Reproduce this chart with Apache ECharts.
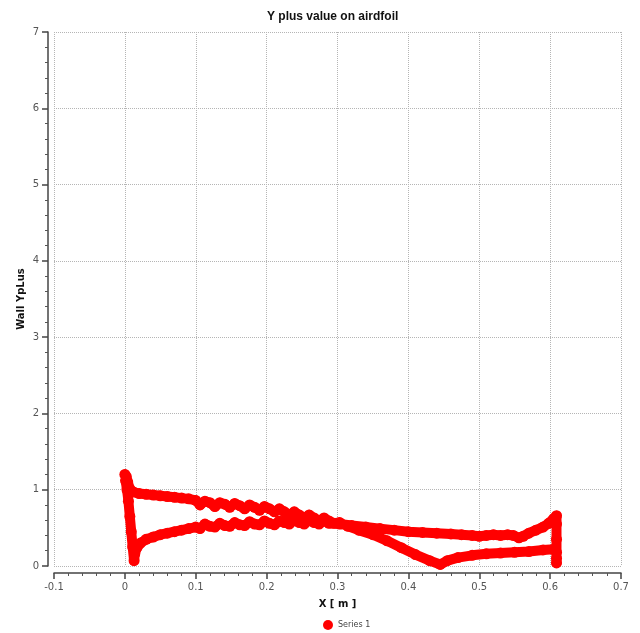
<!DOCTYPE html>
<html>
<head>
<meta charset="utf-8">
<title>Y plus value on airdfoil</title>
<script src="https://cdn.jsdelivr.net/npm/echarts@6/dist/echarts.min.js"></script>
<style>
  html, body { margin: 0; padding: 0; background: #ffffff; }
  #chart { width: 640px; height: 633px; }
</style>
</head>
<body>
<div id="chart"></div>
<script>
// Wall y+ along the airfoil, leading edge -> suction side -> trailing edge
const sideAX = [0.000, 0.002, 0.004, 0.007, 0.012, 0.020, 0.030, 0.040, 0.050, 0.060,
  0.070, 0.080, 0.090, 0.100, 0.106, 0.113, 0.120, 0.127, 0.134, 0.141,
  0.148, 0.155, 0.162, 0.169, 0.176, 0.183, 0.190, 0.197, 0.204, 0.211,
  0.218, 0.225, 0.232, 0.239, 0.246, 0.253, 0.260, 0.267, 0.274, 0.281,
  0.288, 0.295, 0.303, 0.315, 0.330, 0.350, 0.370, 0.390, 0.410, 0.430,
  0.445, 0.455, 0.470, 0.490, 0.510, 0.530, 0.550, 0.570, 0.590, 0.605,
  0.609, 0.609];
const sideAY = [1.20, 1.17, 1.10, 1.01, 0.97, 0.95, 0.94, 0.93, 0.92, 0.91,
  0.90, 0.89, 0.88, 0.86, 0.80, 0.85, 0.83, 0.78, 0.83, 0.81,
  0.77, 0.82, 0.79, 0.75, 0.80, 0.77, 0.73, 0.78, 0.75, 0.71,
  0.75, 0.71, 0.67, 0.71, 0.67, 0.63, 0.67, 0.63, 0.59, 0.63,
  0.59, 0.56, 0.57, 0.52, 0.47, 0.41, 0.33, 0.24, 0.15, 0.07,
  0.02, 0.07, 0.11, 0.14, 0.16, 0.17, 0.18, 0.19, 0.21, 0.22,
  0.18, 0.04];

// Trailing edge -> other side -> back to the leading edge
const sideBX = [0.609, 0.609, 0.609, 0.609, 0.605, 0.598, 0.590, 0.580, 0.570, 0.562,
  0.556, 0.548, 0.540, 0.530, 0.520, 0.510, 0.500, 0.490, 0.475, 0.460,
  0.440, 0.420, 0.400, 0.380, 0.360, 0.340, 0.320, 0.303, 0.288, 0.281,
  0.274, 0.267, 0.260, 0.253, 0.246, 0.239, 0.232, 0.225, 0.218, 0.211,
  0.204, 0.197, 0.190, 0.183, 0.176, 0.169, 0.162, 0.155, 0.148, 0.141,
  0.134, 0.127, 0.120, 0.113, 0.106, 0.100, 0.090, 0.080, 0.070, 0.060,
  0.050, 0.040, 0.030, 0.022, 0.017, 0.014, 0.013, 0.011, 0.009, 0.007,
  0.005, 0.003, 0.001];
const sideBY = [0.10, 0.35, 0.55, 0.66, 0.62, 0.56, 0.51, 0.47, 0.43, 0.39,
  0.37, 0.40, 0.41, 0.40, 0.41, 0.40, 0.39, 0.40, 0.41, 0.42,
  0.43, 0.44, 0.45, 0.47, 0.49, 0.51, 0.53, 0.55, 0.56, 0.59,
  0.55, 0.57, 0.60, 0.55, 0.57, 0.60, 0.55, 0.57, 0.59, 0.54,
  0.56, 0.59, 0.54, 0.55, 0.58, 0.53, 0.54, 0.57, 0.52, 0.53,
  0.56, 0.51, 0.52, 0.55, 0.49, 0.51, 0.49, 0.47, 0.45, 0.43,
  0.41, 0.38, 0.35, 0.30, 0.24, 0.16, 0.07, 0.25, 0.45, 0.65,
  0.85, 1.00, 1.12];

const xTicks = { min: -0.1, max: 0.7, step: 0.1 };
const yTicks = { min: 0, max: 7, step: 1 };
const seriesName = 'Series 1';

const points = [];
sideAX.forEach((x, i) => points.push([x, sideAY[i]]));
sideBX.forEach((x, i) => points.push([x, sideBY[i]]));

const fmt = v => String(Math.round(v * 10) / 10);

const chart = echarts.init(document.getElementById('chart'), null, { renderer: 'canvas' });
chart.setOption({
  animation: false,
  backgroundColor: '#ffffff',
  title: {
    text: 'Y plus value on airdfoil',
    left: 262,
    top: 6,
    textStyle: { fontFamily: 'Liberation Sans', fontSize: 12, fontWeight: 'bold', color: '#111' }
  },
  legend: {
    data: [{ name: seriesName, icon: 'circle' }],
    left: 318,
    top: 615,
    itemWidth: 10,
    itemHeight: 10,
    itemGap: 6,
    textStyle: { fontFamily: 'DejaVu Sans', fontSize: 8, color: '#444' }
  },
  grid: { left: 54, right: 19, top: 32, bottom: 67, containLabel: false },
  xAxis: {
    type: 'value',
    min: xTicks.min,
    max: xTicks.max,
    interval: xTicks.step,
    offset: 7,
    name: 'X [ m ]',
    nameLocation: 'middle',
    nameGap: 26,
    nameMoveOverlap: false,
    nameTextStyle: { fontFamily: 'DejaVu Sans', fontSize: 10, fontWeight: 'bold', color: '#111' },
    axisLine: { show: true, onZero: false, lineStyle: { color: '#444', width: 1.5 } },
    axisTick: { show: true, inside: false, length: 6, lineStyle: { color: '#444', width: 1.5 } },
    minorTick: { show: true, splitNumber: 5, length: 3, lineStyle: { color: '#555' } },
    axisLabel: { margin: 9, fontFamily: 'DejaVu Sans', fontSize: 10, color: '#555', formatter: fmt },
    splitLine: { show: true, lineStyle: { color: '#b5b5b5', type: [1, 1], width: 1 } }
  },
  yAxis: {
    type: 'value',
    min: yTicks.min,
    max: yTicks.max,
    interval: yTicks.step,
    offset: 6,
    name: 'Wall YpLus',
    nameLocation: 'middle',
    nameGap: 22,
    nameRotate: 90,
    nameMoveOverlap: false,
    nameTextStyle: { fontFamily: 'DejaVu Sans', fontSize: 10, fontWeight: 'bold', color: '#111' },
    axisLine: { show: true, onZero: false, lineStyle: { color: '#444', width: 1.5 } },
    axisTick: { show: true, inside: false, length: 6, lineStyle: { color: '#444', width: 1.5 } },
    minorTick: { show: true, splitNumber: 5, length: 3, lineStyle: { color: '#555' } },
    axisLabel: { margin: 9, fontFamily: 'DejaVu Sans', fontSize: 10, color: '#555' },
    splitLine: { show: true, lineStyle: { color: '#b5b5b5', type: [1, 1], width: 1 } }
  },
  series: [{
    name: seriesName,
    type: 'line',
    data: points,
    color: '#ff0000',
    symbol: 'circle',
    symbolSize: 11,
    showSymbol: true,
    smooth: false,
    lineStyle: { color: '#ff0000', width: 10, cap: 'round', join: 'round' },
    itemStyle: { color: '#ff0000' }
  }]
});
</script>
</body>
</html>
